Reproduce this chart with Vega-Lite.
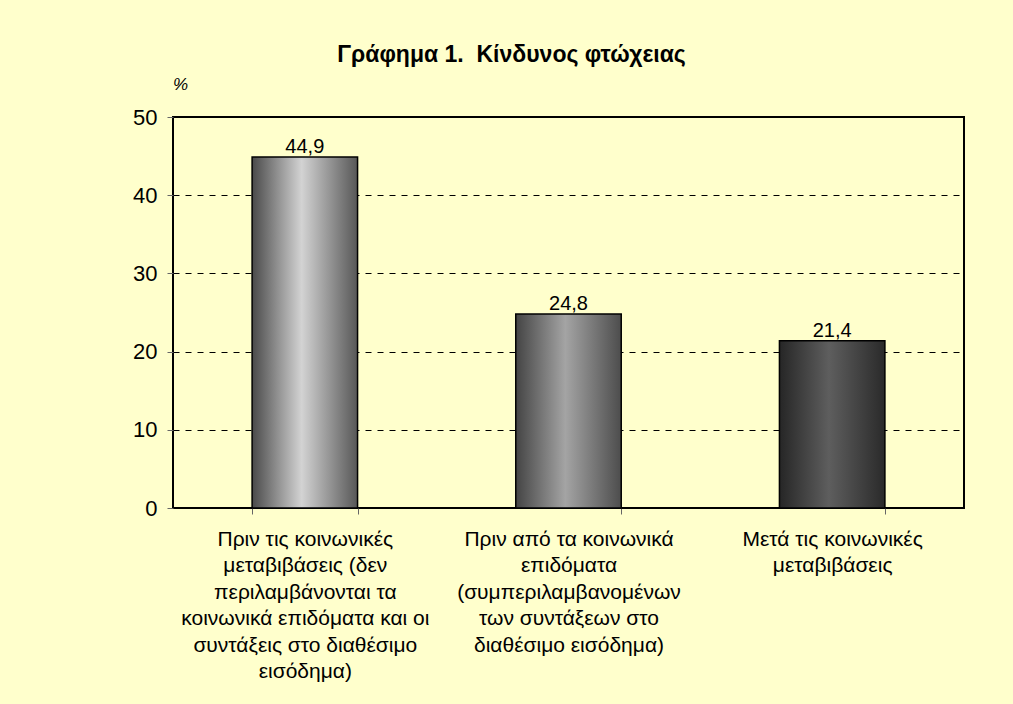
{
  "$schema": "https://vega.github.io/schema/vega-lite/v6.json",
  "width": 791,
  "height": 391,
  "autosize": {"type": "none"},
  "padding": {"left": 173, "top": 117, "right": 49, "bottom": 196},
  "background": "#FFFFCC",
  "title": {
    "text": "Γράφημα 1.\u00a0\u00a0Κίνδυνος φτώχειας",
    "font": "Liberation Sans",
    "fontSize": 23,
    "fontWeight": "bold",
    "color": "#000000",
    "anchor": "middle",
    "frame": "group",
    "dx": -57,
    "offset": 8
  },
  "data": {
    "values": [
      {"cat": "Πριν τις κοινωνικές|μεταβιβάσεις (δεν|περιλαμβάνονται τα|κοινωνικά επιδόματα και οι|συντάξεις στο διαθέσιμο|εισόδημα)", "value": 44.9, "label": "44,9", "k": 1},
      {"cat": "Πριν από τα κοινωνικά|επιδόματα|(συμπεριλαμβανομένων|των συντάξεων στο|διαθέσιμο εισόδημα)", "value": 24.8, "label": "24,8", "k": 2},
      {"cat": "Μετά τις κοινωνικές|μεταβιβάσεις", "value": 21.4, "label": "21,4", "k": 3}
    ]
  },
  "encoding": {
    "x": {
      "field": "cat",
      "type": "nominal",
      "sort": null,
      "scale": {"paddingInner": 0.6, "paddingOuter": 0.3},
      "axis": {
        "title": null,
        "labelAngle": 0,
        "labelExpr": "split(datum.label, '|')",
        "labelFont": "Liberation Sans",
        "labelFontSize": 21,
        "labelLineHeight": 26.5,
        "labelColor": "#000000",
        "labelLimit": 0,
        "labelPadding": 14,
        "labelBaseline": "top",
        "tickBand": "extent",
        "tickSize": 6,
        "tickColor": "#666666",
        "domain": false,
        "grid": false
      }
    },
    "y": {
      "field": "value",
      "type": "quantitative",
      "scale": {"domain": [0, 50], "nice": false},
      "axis": {
        "values": [0, 10, 20, 30, 40, 50],
        "title": "%",
        "titleAngle": 0,
        "titleX": 7,
        "titleY": -33,
        "titleAlign": "center",
        "titleBaseline": "middle",
        "titleFont": "Liberation Sans",
        "titleFontSize": 17,
        "titleFontWeight": "normal",
        "titleFontStyle": "italic",
        "titleColor": "#000000",
        "labelFont": "Liberation Sans",
        "labelFontSize": 22,
        "labelColor": "#000000",
        "labelPadding": 10,
        "tickSize": 6,
        "tickColor": "#666666",
        "domain": false,
        "grid": true,
        "gridColor": "#000000",
        "gridDash": [6, 6],
        "gridWidth": 1
      }
    }
  },
  "layer": [
    {
      "transform": [{"filter": "datum.k == 1"}],
      "mark": {
        "type": "bar",
        "stroke": "#000000",
        "strokeWidth": 1.5,
        "color": {
          "gradient": "linear", "x1": 0, "x2": 1, "y1": 0, "y2": 0,
          "stops": [
            {"offset": 0, "color": "#4a4a4a"},
            {"offset": 0.47, "color": "#d3d3d3"},
            {"offset": 1, "color": "#575757"}
          ]
        }
      }
    },
    {
      "transform": [{"filter": "datum.k == 2"}],
      "mark": {
        "type": "bar",
        "stroke": "#000000",
        "strokeWidth": 1.5,
        "color": {
          "gradient": "linear", "x1": 0, "x2": 1, "y1": 0, "y2": 0,
          "stops": [
            {"offset": 0, "color": "#444444"},
            {"offset": 0.47, "color": "#a4a4a4"},
            {"offset": 1, "color": "#4d4d4d"}
          ]
        }
      }
    },
    {
      "transform": [{"filter": "datum.k == 3"}],
      "mark": {
        "type": "bar",
        "stroke": "#000000",
        "strokeWidth": 1.5,
        "color": {
          "gradient": "linear", "x1": 0, "x2": 1, "y1": 0, "y2": 0,
          "stops": [
            {"offset": 0, "color": "#262626"},
            {"offset": 0.47, "color": "#5e5e5e"},
            {"offset": 1, "color": "#2a2a2a"}
          ]
        }
      }
    },
    {
      "mark": {
        "type": "text",
        "font": "Liberation Sans",
        "fontSize": 20,
        "color": "#000000",
        "baseline": "alphabetic",
        "dy": -4
      },
      "encoding": {"text": {"field": "label"}}
    }
  ],
  "config": {
    "view": {"stroke": "#000000", "strokeWidth": 2, "fill": "#FFFFCC"}
  }
}
